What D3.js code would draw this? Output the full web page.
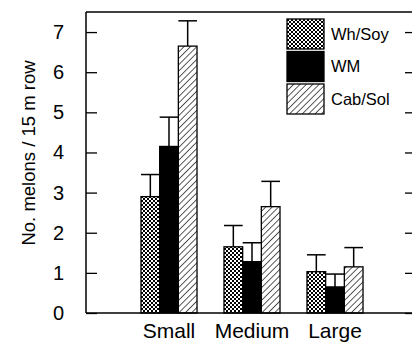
<!DOCTYPE html>
<html>
<head>
<meta charset="utf-8">
<script src="https://cdn.jsdelivr.net/npm/d3@7"></script>
<style>
  body { margin: 0; background: #fff; }
  svg { display: block; font-family: "Liberation Sans", Arial, sans-serif; }
</style>
</head>
<body>
<div class="chart"></div>
<script>
// data
var categories = ["Small", "Medium", "Large"];
var seriesNames = ["Wh/Soy", "WM", "Cab/Sol"];
var whSoy = [2.9, 1.65, 1.03];
var wm = [4.15, 1.28, 0.65];
var cabSol = [6.65, 2.65, 1.15];
var whSoyErr = [0.55, 0.53, 0.42];
var wmErr = [0.73, 0.47, 0.32];
var cabSolErr = [0.63, 0.63, 0.48];
var yTicks = [0, 1, 2, 3, 4, 5, 6, 7];

var values = [whSoy, wm, cabSol];
var errors = [whSoyErr, wmErr, cabSolErr];
var fills = ["url(#checker)", "#000", "url(#hatch)"];

var width = 412, height = 344;
var plotLeft = 86, plotRight = 413, plotTop = 12, plotBottom = 313;

var svg = d3.select(".chart")
	.append("svg")
	.attr("width", width)
	.attr("height", height);

// patterns
var defs = svg.append("defs");
var checker = defs.append("pattern")
	.attr("id", "checker")
	.attr("patternUnits", "userSpaceOnUse")
	.attr("width", 4)
	.attr("height", 4);
checker.append("rect").attr("width", 4).attr("height", 4).attr("fill", "#fff");
checker.append("rect").attr("width", 2).attr("height", 2).attr("fill", "#000");
checker.append("rect").attr("x", 2).attr("y", 2).attr("width", 2).attr("height", 2).attr("fill", "#000");

var hatch = defs.append("pattern")
	.attr("id", "hatch")
	.attr("patternUnits", "userSpaceOnUse")
	.attr("width", 4.5)
	.attr("height", 4.5)
	.attr("patternTransform", "rotate(45)");
hatch.append("rect").attr("width", 4.5).attr("height", 4.5).attr("fill", "#fff");
hatch.append("line")
	.attr("x1", 0).attr("y1", 0).attr("x2", 0).attr("y2", 4.5)
	.attr("stroke", "#000").attr("stroke-width", 1.3);

// scales
var x0 = d3.scaleBand()
	.domain(categories)
	.range([127.5, 376.5])
	.paddingInner(0.325)
	.paddingOuter(0.1625);

var x1 = d3.scaleBand()
	.domain(seriesNames)
	.range([0, x0.bandwidth()]);

var y = d3.scaleLinear()
	.domain([0, 7.5])
	.range([plotBottom, plotTop]);

// bars
var groups = svg.selectAll(".group")
	.data(categories)
	.enter().append("g")
	.attr("class", "group")
	.attr("transform", function(d) { return "translate(" + x0(d) + ",0)"; });

seriesNames.forEach(function(s, si) {
	groups.append("rect")
		.attr("x", x1(s))
		.attr("y", function(d, i) { return y(values[si][i]); })
		.attr("width", x1.bandwidth())
		.attr("height", function(d, i) { return plotBottom - y(values[si][i]); })
		.attr("fill", fills[si])
		.attr("stroke", "#000")
		.attr("stroke-width", 1.3);
});

// error bars (upper only)
seriesNames.forEach(function(s, si) {
	var cx = x1(s) + x1.bandwidth() / 2;
	groups.append("line")
		.attr("x1", cx).attr("x2", cx)
		.attr("y1", function(d, i) { return y(values[si][i]); })
		.attr("y2", function(d, i) { return y(values[si][i] + errors[si][i]); })
		.attr("stroke", "#000").attr("stroke-width", 1.5);
	groups.append("line")
		.attr("x1", x1(s)).attr("x2", x1(s) + x1.bandwidth())
		.attr("y1", function(d, i) { return y(values[si][i] + errors[si][i]); })
		.attr("y2", function(d, i) { return y(values[si][i] + errors[si][i]); })
		.attr("stroke", "#000").attr("stroke-width", 1.5);
});

// frame
svg.append("line").attr("x1", plotLeft).attr("x2", plotRight).attr("y1", plotTop).attr("y2", plotTop)
	.attr("stroke", "#000").attr("stroke-width", 1.5);
svg.append("line").attr("x1", plotLeft).attr("x2", plotRight).attr("y1", plotBottom).attr("y2", plotBottom)
	.attr("stroke", "#000").attr("stroke-width", 1.5);

// left axis, ticks pointing in
var leftAxis = svg.append("g")
	.attr("transform", "translate(" + plotLeft + ",0)")
	.call(d3.axisLeft(y).tickValues(yTicks).tickSizeInner(-11).tickSizeOuter(0).tickPadding(22));
leftAxis.select(".domain").attr("d", "M0," + plotTop + "V" + plotBottom).attr("stroke-width", 1.5);
leftAxis.selectAll(".tick line").attr("stroke-width", 1.3);
leftAxis.selectAll(".tick text")
	.attr("font-size", 20)
	.attr("font-family", "Liberation Sans, Arial, sans-serif")
	.attr("fill", "#000");

// right axis, ticks pointing in, no labels
var rightAxis = svg.append("g")
	.attr("transform", "translate(" + plotRight + ",0)")
	.call(d3.axisRight(y).tickValues(yTicks).tickSizeInner(-8).tickSizeOuter(0).tickFormat(""));
rightAxis.select(".domain").attr("d", "M0," + plotTop + "V" + plotBottom).attr("stroke-width", 1.5);
rightAxis.selectAll(".tick line").attr("stroke-width", 1.3);

// category labels
svg.selectAll(".cat")
	.data(categories)
	.enter().append("text")
	.attr("class", "cat")
	.attr("x", function(d) { return x0(d) + x0.bandwidth() / 2; })
	.attr("y", 338)
	.attr("text-anchor", "middle")
	.attr("font-size", 21)
	.text(function(d) { return d; });

// y axis title
svg.append("text")
	.attr("transform", "translate(35,153) rotate(-90)")
	.attr("text-anchor", "middle")
	.attr("font-size", 18.5)
	.text("No. melons / 15 m row");

// legend
var legend = svg.selectAll(".legend")
	.data(seriesNames)
	.enter().append("g")
	.attr("class", "legend")
	.attr("transform", function(d, i) { return "translate(287," + (19 + i * 32.5) + ")"; });

legend.append("rect")
	.attr("width", 37)
	.attr("height", 30)
	.attr("fill", function(d, i) { return fills[i]; })
	.attr("stroke", "#000")
	.attr("stroke-width", 1.3);

legend.append("text")
	.attr("x", 44)
	.attr("y", 20.5)
	.attr("font-size", 16.5)
	.text(function(d) { return d; });
</script>
</body>
</html>
